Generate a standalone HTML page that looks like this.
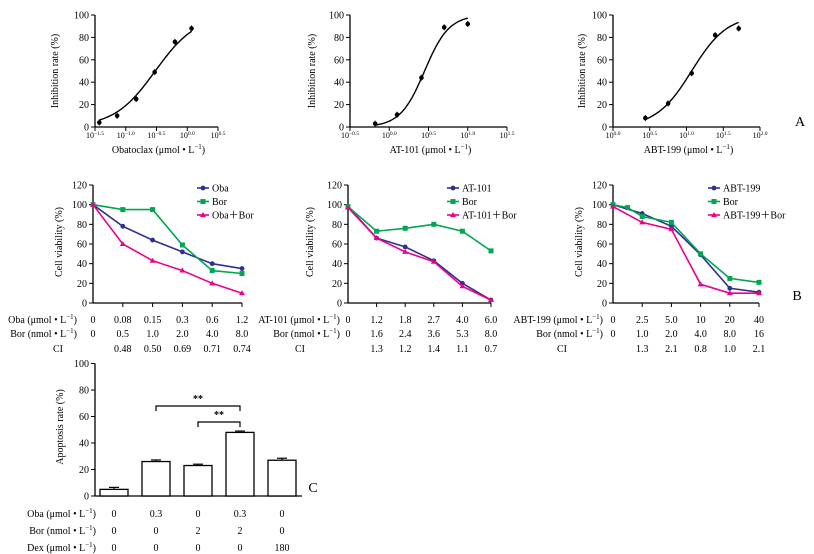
<!DOCTYPE html>
<html><head><meta charset="utf-8"><style>
html,body{margin:0;padding:0;background:#fff;width:814px;height:554px;overflow:hidden}
svg{display:block;font-family:"Liberation Serif",serif;font-size:10px}
</style></head><body>
<svg id="fig" width="814" height="554" viewBox="0 0 814 554"></svg>
<script>
// ---- Panel A data (log10 concentration, inhibition %) ----
const a1LogX=[-1.43,-1.14,-0.83,-0.53,-0.2,0.07];
const a1Vals=[4,10,25,49,76,88];
const a1Fit=[-0.52,1.3];
const a2LogX=[-0.18,0.1,0.41,0.7,1.0];
const a2Vals=[3,11,44,89,92];
const a2Fit=[0.45,2.8];
const a3LogX=[0.44,0.75,1.07,1.39,1.71];
const a3Vals=[8,21,48,82,88];
const a3Fit=[1.07,1.8];
const aYTicks=[0,20,40,60,80,100];
// ---- Panel B data ----
const bYTicks=[0,20,40,60,80,100,120];
const b1Oba=[100,78,64,52,40,35];
const b1Bor=[100,95,95,59,33,30];
const b1Combo=[100,60,43,33,20,10];
const b1Row1=["0","0.08","0.15","0.3","0.6","1.2"];
const b1Row2=["0","0.5","1.0","2.0","4.0","8.0"];
const b1CI=["","0.48","0.50","0.69","0.71","0.74"];
const b2At=[98,66,57,43,20,3];
const b2Bor=[98,73,76,80,73,53];
const b2Combo=[97,66,52,42,17,3];
const b2Row1=["0","1.2","1.8","2.7","4.0","6.0"];
const b2Row2=["0","1.6","2.4","3.6","5.3","8.0"];
const b2CI=["","1.3","1.2","1.4","1.1","0.7"];
const b3Abt=[100,91,78,49,15,11];
const b3BorIdx=[0,0.5,1,2,3,4,5];
const b3Bor=[100,97,88,82,50,25,21];
const b3Combo=[98,82,75,19,10,10];
const b3Row1=["0","2.5","5.0","10","20","40"];
const b3Row2=["0","1.0","2.0","4.0","8.0","16"];
const b3CI=["","1.3","2.1","0.8","1.0","2.1"];
// ---- Panel C data ----
const cVals=[5,26,23,48,27];
const cErr=[1.5,1.2,1,1,1.5];
const cOba=["0","0.3","0","0.3","0"];
const cBor=["0","0","2","2","0"];
const cDex=["0","0","0","0","180"];
const cYTicks=[0,20,40,60,80,100];

const NS="http://www.w3.org/2000/svg";
const svg=document.getElementById('fig');
function mk(tag,attrs,name,parent){
  const e=document.createElementNS(NS,tag);
  for(const k in attrs) e.setAttribute(k,attrs[k]);
  
  
  (parent||svg).appendChild(e);return e;
}
function txt(x,y,s,name,anchor,parent){
  const t=mk('text',{x:x,y:y,'text-anchor':anchor||'middle'},name,parent);
  t.textContent=s;return t;
}
function unitText(x,y,pre,name,anchor){
  const t=mk('text',{x:x,y:y,'text-anchor':anchor||'end'},name);
  t.appendChild(document.createTextNode(pre+" (μmol • L"));
  const s=document.createElementNS(NS,'tspan');s.setAttribute('dy','-4');s.setAttribute('font-size','7');s.textContent='−1';t.appendChild(s);
  const s2=document.createElementNS(NS,'tspan');s2.setAttribute('dy','4');s2.textContent=')';t.appendChild(s2);
  return t;
}
function unitTextN(x,y,pre,name,anchor){
  const t=mk('text',{x:x,y:y,'text-anchor':anchor||'end'},name);
  t.appendChild(document.createTextNode(pre+" (nmol • L"));
  const s=document.createElementNS(NS,'tspan');s.setAttribute('dy','-4');s.setAttribute('font-size','7');s.textContent='−1';t.appendChild(s);
  const s2=document.createElementNS(NS,'tspan');s2.setAttribute('dy','4');s2.textContent=')';t.appendChild(s2);
  return t;
}
function yAxis(g,x,yTop,yBot,ticks,max,prefix){
  mk('line',{x1:x,y1:yTop,x2:x,y2:yBot,stroke:'#000','stroke-width':1.3},prefix+'-y-axis',g);
  ticks.forEach(v=>{const y=yBot-(v/max)*(yBot-yTop);
    mk('line',{x1:x-4,y1:y,x2:x,y2:y,stroke:'#000'},prefix+'-y-tick',g);
    txt(x-6,y+3.5,String(v),prefix+'-y-tick-label','end',g);});
}
function rotTitle(x,y,s,name){
  const t=mk('text',{x:0,y:0,'text-anchor':'middle',transform:`translate(${x},${y}) rotate(-90)`},name);
  t.textContent=s;
}
// ---------- Panel A ----------
function panelA(x0,x1,lo,hi,logx,vals,fit,xTitle,pfx,tx,titleY){
  const yTop=15,yBot=127;
  const g=mk('g',{},pfx+'-chart');
  const X=v=>x0+(v-lo)/(hi-lo)*(x1-x0);
  const Y=v=>yBot-v/100*(yBot-yTop);
  yAxis(g,x0,yTop,yBot,aYTicks,100,pfx);
  mk('line',{x1:x0,y1:yBot,x2:x1,y2:yBot,stroke:'#000','stroke-width':1.3},pfx+'-x-axis',g);
  for(let i=0;i<=4;i++){const v=lo+i*0.5;const xx=X(v);
    mk('line',{x1:xx,y1:yBot,x2:xx,y2:yBot+4,stroke:'#000'},pfx+'-x-tick',g);
    const t=mk('text',{x:xx,y:yBot+11,'text-anchor':'middle','font-size':8},pfx+'-x-tick-label',g);
    t.appendChild(document.createTextNode('10'));
    const s=document.createElementNS(NS,'tspan');s.setAttribute('dy','-3');s.setAttribute('font-size','5.5');
    s.textContent=(v<0?'−':'')+Math.abs(v).toFixed(1);t.appendChild(s);}
  // fitted curve
  let d='';const a=logx[0],b=logx[logx.length-1];
  for(let i=0;i<=60;i++){const v=a+(b-a)*i/60;const yv=100/(1+Math.pow(10,fit[1]*(fit[0]-v)));
    d+=(i?'L':'M')+X(v).toFixed(1)+','+Y(yv).toFixed(1);}
  mk('path',{d:d,fill:'none',stroke:'#000','stroke-width':1.4},pfx+'-fit-curve',g);
  logx.forEach((v,i)=>{
    mk('line',{x1:X(v),y1:Y(vals[i])-3,x2:X(v),y2:Y(vals[i])+3,stroke:'#000'},pfx+'-error-bar',g);
    mk('circle',{cx:X(v),cy:Y(vals[i]),r:2.3,fill:'#000'},pfx+'-point',g);});
  rotTitle(tx,71,'Inhibition rate (%)',pfx+'-y-axis-title');
  unitText((x0+x1)/2+2,titleY,xTitle,pfx+'-x-axis-title','middle');
}
panelA(95,218,-1.5,0.5,a1LogX,a1Vals,a1Fit,'Obatoclax','a1',58,153);
panelA(350,507,-0.5,1.5,a2LogX,a2Vals,a2Fit,'AT-101','a2',315,153);
panelA(613,760,0,2,a3LogX,a3Vals,a3Fit,'ABT-199','a3',585,153);
txt(800,126,'A','panel-a-label','middle').setAttribute('font-size','14');

// ---------- Panel B ----------
const cols={blue:'#2e3192',green:'#00a651',pink:'#ec008c'};
function marker(g,x,y,type,color,pfx){
  if(type==='c') mk('circle',{cx:x,cy:y,r:2.4,fill:color},pfx+'-marker',g);
  else if(type==='s') mk('rect',{x:x-2.5,y:y-2.5,width:5,height:5,fill:color},pfx+'-marker',g);
  else mk('path',{d:`M${x},${y-3}L${x+3},${y+2}L${x-3},${y+2}Z`,fill:color},pfx+'-marker',g);
}
function panelB(x0,step,series,legendX,names,rows,rowLabelX,ciX,pfx,titleX,firstLbl){
  const yTop=185,yBot=303;
  const g=mk('g',{},pfx+'-chart');
  const X=i=>x0+i*step;const Y=v=>yBot-v/120*(yBot-yTop);
  yAxis(g,x0,yTop,yBot,bYTicks,120,pfx);
  mk('line',{x1:x0,y1:yBot,x2:X(5),y2:yBot,stroke:'#000','stroke-width':1.3},pfx+'-x-axis',g);
  for(let i=1;i<=5;i++) mk('line',{x1:X(i),y1:yBot,x2:X(i),y2:yBot+4,stroke:'#000'},pfx+'-x-tick',g);
  series.forEach((s,si)=>{
    const d=s.vals.map((v,i)=>(i?'L':'M')+X(s.idx[i]).toFixed(1)+','+Y(v).toFixed(1)).join('');
    mk('path',{d:d,fill:'none',stroke:s.color,'stroke-width':1.6},pfx+'-line-'+names[si].toLowerCase().replace(/[^a-z0-9]+/g,'-'),g);
    s.vals.forEach((v,i)=>marker(g,X(s.idx[i]),Y(v),s.m,s.color,pfx));
    const ly=188+si*13.5;
    mk('line',{x1:legendX,y1:ly,x2:legendX+12,y2:ly,stroke:s.color,'stroke-width':1.6},pfx+'-legend-line',g);
    marker(g,legendX+6,ly,s.m,s.color,pfx);
    txt(legendX+15,ly+3.5,names[si],pfx+'-legend-entry','start',g);
  });
  rotTitle(titleX,242,'Cell viability (%)',pfx+'-y-axis-title');
  unitText(rowLabelX,323,firstLbl,pfx+'-row1-label','end');
  unitTextN(rowLabelX,337,'Bor',pfx+'-row2-label','end');
  txt(ciX,352,'CI',pfx+'-ci-label','middle');
  rows[0].forEach((s,i)=>txt(X(i),323,s,pfx+'-row1-value','middle'));
  rows[1].forEach((s,i)=>txt(X(i),337,s,pfx+'-row2-value','middle'));
  rows[2].forEach((s,i)=>{if(s)txt(X(i),352,s,pfx+'-ci-value','middle');});
}
const idx6=[0,1,2,3,4,5];
panelB(93,29.8,[{vals:b1Oba,idx:idx6,color:cols.blue,m:'c'},{vals:b1Bor,idx:idx6,color:cols.green,m:'s'},{vals:b1Combo,idx:idx6,color:cols.pink,m:'t'}],
  197,['Oba','Bor','Oba＋Bor'],[b1Row1,b1Row2,b1CI],77,58,'b1',62,'Oba');
panelB(348,28.6,[{vals:b2At,idx:idx6,color:cols.blue,m:'c'},{vals:b2Bor,idx:idx6,color:cols.green,m:'s'},{vals:b2Combo,idx:idx6,color:cols.pink,m:'t'}],
  447,['AT-101','Bor','AT-101＋Bor'],[b2Row1,b2Row2,b2CI],340,300,'b2',313,'AT-101');
panelB(613,29.2,[{vals:b3Abt,idx:idx6,color:cols.blue,m:'c'},{vals:b3Bor,idx:b3BorIdx,color:cols.green,m:'s'},{vals:b3Combo,idx:idx6,color:cols.pink,m:'t'}],
  708,['ABT-199','Bor','ABT-199＋Bor'],[b3Row1,b3Row2,b3CI],603,562,'b3',582,'ABT-199');
txt(797,300,'B','panel-b-label','middle').setAttribute('font-size','14');

// ---------- Panel C ----------
(function(){
  const x0=95,yBot=496,yTop=363.5,bw=28;
  const g=mk('g',{},'c-chart');
  const Y=v=>yBot-v/100*(yBot-yTop);
  const centers=[114,156,198,240,282];
  yAxis(g,x0,yTop,yBot,cYTicks,100,'c');
  mk('line',{x1:x0,y1:yBot,x2:302,y2:yBot,stroke:'#000','stroke-width':1.3},'c-x-axis',g);
  cVals.forEach((v,i)=>{
    mk('line',{x1:centers[i]-5,y1:Y(v+cErr[i]),x2:centers[i]+5,y2:Y(v+cErr[i]),stroke:'#000','stroke-width':1.2},'c-error-cap',g);
    mk('line',{x1:centers[i],y1:Y(v+cErr[i]),x2:centers[i],y2:Y(v),stroke:'#000','stroke-width':1.2},'c-error-bar',g);
    mk('rect',{x:centers[i]-bw/2,y:Y(v),width:bw,height:yBot-Y(v),fill:'#fff',stroke:'#000','stroke-width':1.3},'c-bar',g);
    txt(centers[i],517,cOba[i],'c-oba-value','middle');
    txt(centers[i],534,cBor[i],'c-bor-value','middle');
    txt(centers[i],551,cDex[i],'c-dex-value','middle');
  });
  mk('path',{d:`M${centers[1]},411V406H${centers[3]}V411`,fill:'none',stroke:'#000','stroke-width':1.2},'c-significance-bracket-1',g);
  txt(198,402,'**','c-significance-stars-1','middle').setAttribute('font-weight','bold');
  mk('path',{d:`M${centers[2]},427V422H${centers[3]}V427`,fill:'none',stroke:'#000','stroke-width':1.2},'c-significance-bracket-2',g);
  txt(219,418,'**','c-significance-stars-2','middle').setAttribute('font-weight','bold');
  rotTitle(63,427,'Apoptosis rate (%)','c-y-axis-title');
  unitText(96,517,'Oba','c-oba-label','end');
  unitTextN(96,534,'Bor','c-bor-label','end');
  unitText(96,551,'Dex','c-dex-label','end');
  txt(313,492,'C','panel-c-label','middle').setAttribute('font-size','14');
})();
</script>
</body></html>
